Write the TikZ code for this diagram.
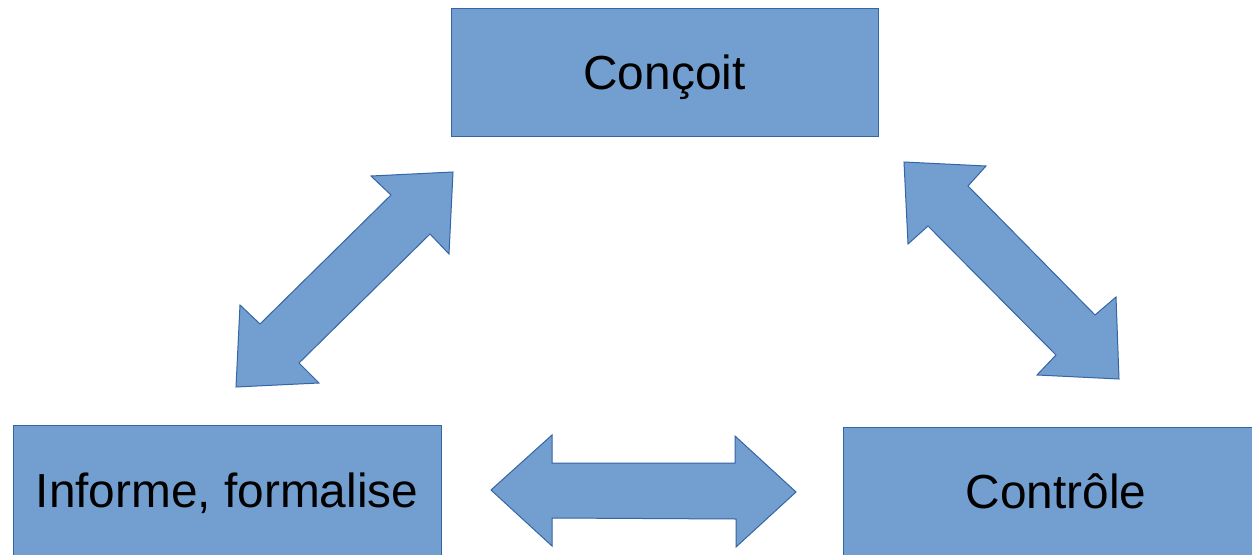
\documentclass[tikz,border=0pt]{standalone}
\usepackage{fontspec}
\setmainfont{Liberation Sans}
\definecolor{boxfill}{HTML}{729FCF}
\definecolor{boxline}{HTML}{3465A4}
\begin{document}
\begin{tikzpicture}[x=1pt,y=-1pt,
  box/.style={draw=boxline, fill=boxfill, line width=1pt, inner sep=0pt,
    font=\fontsize{47.8}{56}\selectfont, text height=34.2pt, text depth=0pt},
  blockarrow/.style={draw=boxline, fill=boxfill, line width=1pt, line join=miter}]
\clip (0,0) rectangle (1252,554);
\useasboundingbox (0,0) rectangle (1252,554);
\fill[white] (0,0) rectangle (1252,554);

\node[box, minimum width=427pt, minimum height=128pt] (concoit) at (664.5,72) {Conçoit};
\node[box, minimum width=428pt, minimum height=130pt] (informe) at (227,490) {Informe, formalise};
\node[box, minimum width=426pt, minimum height=128pt] (controle) at (1056,491) {Contrôle};

% left diagonal double arrow (informe <-> concoit)
\draw[blockarrow] (453,172) -- (449,254) -- (430,234) -- (299,363) -- (319,383)
  -- (236,387) -- (240,305) -- (260,324) -- (391,195) -- (371,176) -- cycle;

% right diagonal double arrow (concoit <-> controle)
\draw[blockarrow] (904,162) -- (986,166) -- (968,186) -- (1095,315) -- (1116,297)
  -- (1119,379) -- (1037,375) -- (1056,355) -- (928,226) -- (908,244) -- cycle;

% horizontal double arrow (informe <-> controle)
\draw[blockarrow] (491,490) -- (552,435) -- (552,463) -- (735,463) -- (735,436)
  -- (796,492) -- (736,547) -- (736,519) -- (552,518) -- (552,546) -- cycle;
\end{tikzpicture}
\end{document}
